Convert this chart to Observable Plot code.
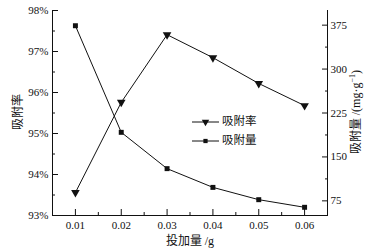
<!DOCTYPE html>
<html><head><meta charset="utf-8">
<script src="https://cdn.jsdelivr.net/npm/d3@7"></script>
<script src="https://cdn.jsdelivr.net/npm/@observablehq/plot@0.6"></script>
<style>body{margin:0;background:#fff}</style>
</head><body><div id="chart"></div>
<script>
const dosage = [0.01, 0.02, 0.03, 0.04, 0.05, 0.06];
const rate = [93.56, 95.76, 97.41, 96.85, 96.22, 95.68];
const capacity = [374, 192, 130, 98, 77, 64];
const leftTicks = [93, 94, 95, 96, 97, 98];
const rightTicks = [75, 150, 225, 300, 375];
const xTicks = [0.01, 0.02, 0.03, 0.04, 0.05, 0.06];

const rDom = [50, 400], lDom = [93, 98];
const toL = v => lDom[0] + (v - rDom[0]) / (rDom[1] - rDom[0]) * (lDom[1] - lDom[0]);
const fromL = y => rDom[0] + (y - lDom[0]) / (lDom[1] - lDom[0]) * (rDom[1] - rDom[0]);

const rateData = dosage.map((x, i) => ({x, y: rate[i]}));
const capData = dosage.map((x, i) => ({x, y: toL(capacity[i])}));

const serif = "'Liberation Serif', 'Times New Roman', serif";
const cjk = "'Noto Sans CJK SC', sans-serif";

const minorL = leftTicks.slice(0, -1).map(t => t + 0.5);
const minorR = [112.5, 187.5, 262.5, 337.5];
const minorX = [0.015, 0.025, 0.035, 0.045, 0.055];

const plot = Plot.plot({
  width: 371, height: 250,
  marginLeft: 52, marginRight: 44, marginTop: 10, marginBottom: 35,
  style: {fontFamily: serif, fontSize: "11px", color: "#111", background: "white"},
  x: {domain: [0.005, 0.065]},
  y: {domain: lDom},
  marks: [
    Plot.axisY(leftTicks, {anchor: "left", tickSize: -6, tickPadding: 10, tickFormat: d => d + "%", label: null, fontSize: 11}),
    Plot.axisY(minorL, {anchor: "left", tickSize: -3, tickFormat: () => "", label: null}),
    Plot.axisY(rightTicks.map(toL), {anchor: "right", tickSize: -6, tickPadding: 9, tickFormat: d => String(Math.round(fromL(d))), label: null, fontSize: 11}),
    Plot.axisY(minorR.map(toL), {anchor: "right", tickSize: -3, tickFormat: () => "", label: null}),
    Plot.axisX(xTicks, {anchor: "bottom", tickSize: -6, tickPadding: 12, tickFormat: d => d.toFixed(2), label: null, fontSize: 11}),
    Plot.axisX(minorX, {anchor: "bottom", tickSize: -3, tickFormat: () => "", label: null}),
    Plot.frame({anchor: "left", stroke: "#111"}),
    Plot.frame({anchor: "right", stroke: "#111"}),
    Plot.frame({anchor: "bottom", stroke: "#111"}),
    Plot.line(rateData, {x: "x", y: "y", stroke: "#111", strokeWidth: 1}),
    Plot.line(capData, {x: "x", y: "y", stroke: "#111", strokeWidth: 1}),
    Plot.dot(rateData, {x: "x", y: "y", symbol: "triangle", rotate: 180, r: 3.2, fill: "#111", stroke: "none"}),
    Plot.dot(capData, {x: "x", y: "y", symbol: "square", r: 2.8, fill: "#111", stroke: "none"})
  ]
});

const svg = d3.select(plot);
// axis titles
svg.append("text").attr("transform", "translate(19,112) rotate(-90)").attr("text-anchor", "middle")
  .attr("dominant-baseline", "middle").style("font-family", cjk).style("font-size", "12px").attr("fill", "#111").text("吸附率");
const rt = svg.append("text").attr("transform", "translate(357,112) rotate(-90)").attr("text-anchor", "middle")
  .attr("dominant-baseline", "middle").style("font-size", "12px").attr("fill", "#111");
rt.append("tspan").style("font-family", cjk).text("吸附量 ");
rt.append("tspan").style("font-family", serif).text("/(mg·g");
rt.append("tspan").style("font-family", serif).attr("dy", -4).style("font-size", "8px").text("−1");
rt.append("tspan").style("font-family", serif).attr("dy", 4).text(")");
const xt = svg.append("text").attr("x", 190).attr("y", 242).attr("text-anchor", "middle")
  .attr("dominant-baseline", "middle").style("font-size", "12px").attr("fill", "#111");
xt.append("tspan").style("font-family", cjk).text("投加量 ");
xt.append("tspan").style("font-family", serif).text("/g");

// legend
const legend = [{name: "吸附率", sym: d3.symbolTriangle, rot: 180}, {name: "吸附量", sym: d3.symbolSquare, rot: 0}];
legend.forEach((d, i) => {
  const y = 122 + i * 19;
  const g = svg.append("g");
  g.append("line").attr("x1", 192).attr("x2", 219).attr("y1", y).attr("y2", y).attr("stroke", "#111");
  g.append("path").attr("d", d3.symbol(d.sym, d.rot ? 24 : 18)()).attr("transform", `translate(205.5,${y}) rotate(${d.rot})`).attr("fill", "#111");
  g.append("text").attr("x", 222).attr("y", y).attr("text-anchor", "start").attr("dominant-baseline", "middle")
    .style("font-family", cjk).style("font-size", "11.5px").attr("fill", "#111").text(d.name);
});

document.getElementById("chart").appendChild(plot);
</script>
</body></html>
